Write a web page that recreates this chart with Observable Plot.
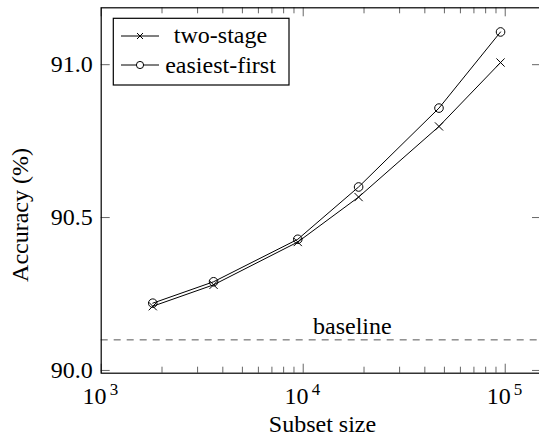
<!DOCTYPE html>
<html><head><meta charset="utf-8">
<script src="https://cdn.jsdelivr.net/npm/d3@7"></script>
<script src="https://cdn.jsdelivr.net/npm/@observablehq/plot@0.6"></script>
<style>
body{margin:0;background:#fff;}
#wrap{width:539px;height:437px;overflow:hidden;}
</style></head><body><div id="wrap"></div>
<script>
// ---- data ----
const sizes = [1800, 3600, 9400, 18800, 47000, 94800];
const twoStage = [90.210, 90.280, 90.420, 90.567, 90.798, 91.007];
const easiestFirst = [90.220, 90.290, 90.429, 90.600, 90.858, 91.107];
const seriesNames = ["two-stage", "easiest-first"];
const baseline = 90.1;
const baselineLabel = "baseline";
const baselineLabelX = 17500;
const yTicks = [90.0, 90.5, 91.0];
const xMajor = [1e3, 1e4, 1e5];
const xMajorExp = ["3", "4", "5"];
const xMinor = [2e3,3e3,4e3,5e3,6e3,7e3,8e3,9e3,2e4,3e4,4e4,5e4,6e4,7e4,8e4,9e4];
const xLabel = "Subset size";
const yLabel = "Accuracy (%)";

// ---- layout ----
const W = 541, H = 437, mL = 100.7, mR = 0, mT = 7.3, mB = 64.3;
const pw = W - mL - mR, ph = H - mT - mB;
const FONT = "Liberation Serif";

function render() {
  const rows = sizes.flatMap((s, i) => [
    {size: s, acc: twoStage[i], series: seriesNames[0]},
    {size: s, acc: easiestFirst[i], series: seriesNames[1]}
  ]);
  const tickStroke = "#666";
  const plot = Plot.plot({
    width: W, height: H,
    marginLeft: mL, marginRight: mR, marginTop: mT, marginBottom: mB,
    style: {fontFamily: FONT, fontSize: "24px", background: "white", maxWidth: "none"},
    x: {type: "log", domain: [1000, 151200], axis: null},
    y: {domain: [89.991, 91.186]},
    marks: [
      Plot.ruleY([baseline], {y: d => d, stroke: "#555", strokeWidth: 1, strokeDasharray: "7,6"}),
      Plot.text([baselineLabel], {x: () => baselineLabelX, y: () => baseline, text: d => d,
        lineAnchor: "bottom", dy: -6, fontSize: 24, fontFamily: FONT, fill: "black"}),
      Plot.ruleX(xMajor, {x: d => d, insetTop: ph - 9, stroke: tickStroke, strokeWidth: 1}),
      Plot.ruleX(xMajor, {x: d => d, insetBottom: ph - 9, stroke: tickStroke, strokeWidth: 1}),
      Plot.ruleX(xMinor, {x: d => d, insetTop: ph - 6, stroke: tickStroke, strokeWidth: 1}),
      Plot.ruleX(xMinor, {x: d => d, insetBottom: ph - 6, stroke: tickStroke, strokeWidth: 1}),
      Plot.ruleY(yTicks, {y: d => d, insetRight: pw - 9, stroke: tickStroke, strokeWidth: 1}),
      Plot.ruleY(yTicks, {y: d => d, insetLeft: pw - 9, stroke: tickStroke, strokeWidth: 1}),
      Plot.axisY(yTicks, {tickFormat: d3.format(".1f"), tickSize: 0, tickPadding: 8.5, fontSize: 24, fontFamily: FONT, label: null, fill: "black"}),
      Plot.text(xMajor, {x: d => d, frameAnchor: "bottom", text: () => "10", textAnchor: "start",
        dx: -18.6, dy: 30.6, lineAnchor: "bottom", fontSize: 24, fontFamily: FONT, fill: "black"}),
      Plot.text(xMajor, {x: d => d, frameAnchor: "bottom", text: (d, i) => xMajorExp[i], textAnchor: "start",
        dx: 8.5, dy: 21.8, lineAnchor: "bottom", fontSize: 17, fontFamily: FONT, fill: "black"}),
      Plot.line(rows, {x: "size", y: "acc", z: "series", stroke: "black", strokeWidth: 1}),
      Plot.dot(rows.filter(d => d.series === seriesNames[0]), {x: "size", y: "acc", symbol: "times", r: 3.8, stroke: "black", strokeWidth: 1}),
      Plot.dot(rows.filter(d => d.series === seriesNames[1]), {x: "size", y: "acc", symbol: "circle", r: 4.3, fill: "none", stroke: "black", strokeWidth: 1}),
      Plot.frame({stroke: "black", strokeWidth: 1.2})
    ]
  });
  plot.style.maxWidth = "none";
  const wrap = document.getElementById("wrap");
  wrap.innerHTML = "";
  wrap.appendChild(plot);

  const svg = d3.select(plot);
  svg.append("text").attr("x", 322.5).attr("y", 432).attr("text-anchor", "middle")
    .attr("font-family", FONT).attr("font-size", 24).attr("fill", "black").text(xLabel);
  svg.append("text").attr("transform", "translate(28,215) rotate(-90)").attr("text-anchor", "middle")
    .attr("font-family", FONT).attr("font-size", 24).attr("fill", "black").text(yLabel);

  const lg = svg.append("g");
  lg.append("rect").attr("x", 113.3).attr("y", 18.3).attr("width", 175.7).attr("height", 66.7)
    .attr("fill", "white").attr("stroke", "black").attr("stroke-width", 1.2);
  const rowY = [36, 65];
  const baseY = [42.7, 72.7];
  seriesNames.forEach((name, i) => {
    lg.append("line").attr("x1", 121).attr("x2", 159).attr("y1", rowY[i]).attr("y2", rowY[i])
      .attr("stroke", "black").attr("stroke-width", 1);
    if (i === 0) {
      const r = 3;
      lg.append("path").attr("d", `M${140-r},${rowY[i]-r}L${140+r},${rowY[i]+r}M${140-r},${rowY[i]+r}L${140+r},${rowY[i]-r}`)
        .attr("stroke", "black").attr("stroke-width", 1);
    } else {
      lg.append("circle").attr("cx", 140).attr("cy", rowY[i]).attr("r", 3.6)
        .attr("fill", "white").attr("stroke", "black").attr("stroke-width", 1);
    }
    lg.append("text").attr("x", 220.5).attr("y", baseY[i]).attr("text-anchor", "middle")
      .attr("font-family", FONT).attr("font-size", 24).attr("fill", "black").text(name);
  });
}
render();
if (document.fonts && document.fonts.load) {
  document.fonts.load("24px 'Liberation Serif'").then(render).catch(() => {});
}
</script></body></html>
